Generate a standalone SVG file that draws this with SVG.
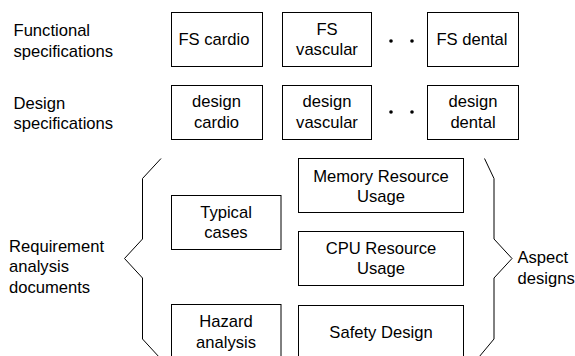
<svg xmlns="http://www.w3.org/2000/svg" width="575" height="356" viewBox="0 0 575 356">
<style>
  text { font-family: "Liberation Sans", Arial, sans-serif; font-size: 16.6px; fill: #000; }
  .c { text-anchor: middle; }
  rect.box { fill: #fff; stroke: #000; stroke-width: 1; }
  .brace { fill: none; stroke: #000; stroke-width: 1; }
  .dot { fill: #000; }
</style>
<rect width="575" height="356" fill="#fff"/>
<g id="labels">
  <text x="13.5" y="36">Functional</text>
  <text x="13.5" y="56.5">specifications</text>
  <text x="13.5" y="108.5">Design</text>
  <text x="13.5" y="129">specifications</text>
  <text x="9" y="251.5">Requirement</text>
  <text x="9" y="272">analysis</text>
  <text x="9" y="293">documents</text>
  <text x="517.5" y="263">Aspect</text>
  <text x="517.5" y="283.5">designs</text>
</g>
<g id="fs-cardio">
  <rect class="box" x="171.5" y="12.5" width="91" height="54"/>
  <text class="c" x="214" y="45">FS cardio</text>
</g>
<g id="fs-vascular">
  <rect class="box" x="282.5" y="12.5" width="89" height="54"/>
  <text class="c" x="327" y="34.5">FS</text>
  <text class="c" x="327" y="55">vascular</text>
</g>
<g id="fs-dental">
  <rect class="box" x="427.5" y="12.5" width="91" height="54"/>
  <text class="c" x="472" y="45">FS dental</text>
</g>
<g id="design-cardio">
  <rect class="box" x="171.5" y="85.5" width="91" height="54"/>
  <text class="c" x="216.5" y="107">design</text>
  <text class="c" x="216.5" y="128">cardio</text>
</g>
<g id="design-vascular">
  <rect class="box" x="282.5" y="85.5" width="89" height="54"/>
  <text class="c" x="327" y="107">design</text>
  <text class="c" x="327" y="128">vascular</text>
</g>
<g id="design-dental">
  <rect class="box" x="427.5" y="85.5" width="91" height="54"/>
  <text class="c" x="473" y="107">design</text>
  <text class="c" x="473" y="128">dental</text>
</g>
<g id="ellipsis">
  <circle class="dot" cx="391" cy="41" r="1.8"/>
  <circle class="dot" cx="412" cy="41" r="1.8"/>
  <circle class="dot" cx="391" cy="112" r="1.8"/>
  <circle class="dot" cx="412" cy="112" r="1.8"/>
</g>
<g id="typical-cases">
  <rect class="box" x="171.5" y="195.5" width="109.5" height="54"/>
  <text class="c" x="226" y="218">Typical</text>
  <text class="c" x="226" y="238">cases</text>
</g>
<g id="hazard-analysis">
  <rect class="box" x="171.5" y="304.5" width="109.5" height="54"/>
  <text class="c" x="226" y="327">Hazard</text>
  <text class="c" x="226" y="347.5">analysis</text>
</g>
<g id="memory">
  <rect class="box" x="298.5" y="158.5" width="165" height="54"/>
  <text class="c" x="381" y="181.5">Memory Resource</text>
  <text class="c" x="381" y="201.5">Usage</text>
</g>
<g id="cpu">
  <rect class="box" x="298.5" y="231.5" width="165" height="54"/>
  <text class="c" x="381" y="253.5">CPU Resource</text>
  <text class="c" x="381" y="273.5">Usage</text>
</g>
<g id="safety">
  <rect class="box" x="298.5" y="305.5" width="165" height="54"/>
  <text class="c" x="381" y="338">Safety Design</text>
</g>
<g id="connectors">
  <polyline class="brace" points="161,158.5 142.5,178.5 142.5,239 124.5,258.5 142.5,278 142.5,339 160,358"/>
  <polyline class="brace" points="484.5,158.5 494,178.5 494,239 512,258.5 494,278 494,339 479,357"/>
</g>
</svg>
